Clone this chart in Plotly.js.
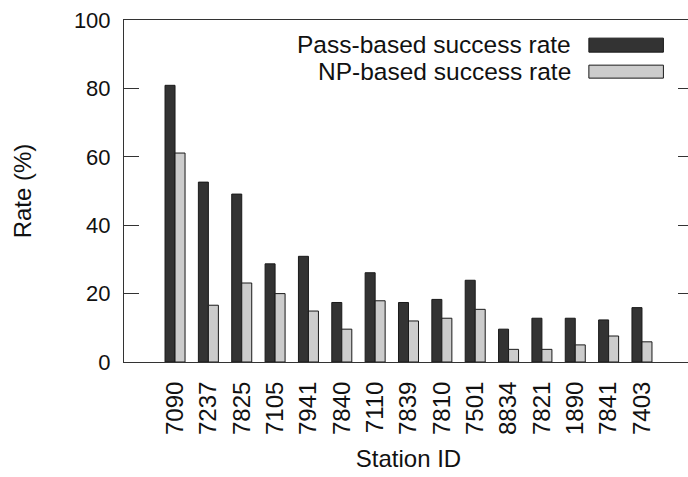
<!DOCTYPE html>
<html>
<head>
<meta charset="utf-8">
<script src="https://cdn.plot.ly/plotly-3.0.1.min.js"></script>
<style>
html, body { margin: 0; padding: 0; overflow: hidden; background: #fff; }
#chart { width: 693px; height: 477px; }
</style>
</head>
<body>
<div id="chart"></div>
<script>
const stations = ["7090","7237","7825","7105","7941","7840","7110","7839","7810","7501","8834","7821","1890","7841","7403"];
const passRate = [80.9, 52.6, 49.1, 28.7, 30.9, 17.4, 26.1, 17.4, 18.3, 23.9, 9.6, 12.8, 12.8, 12.3, 15.9];
const npRate   = [61.1, 16.6, 23.1, 20.0, 14.9, 9.6, 17.9, 12.0, 12.8, 15.4, 3.7, 3.7, 5.0, 7.6, 5.9];
const seriesNames = ["Pass-based success rate", "NP-based success rate"];
const yTicks = [0, 20, 40, 60, 80, 100];

const FONT = "Arial, 'Liberation Sans', sans-serif";
const darkFill = "#333333", lightFill = "#cccccc", edge = "#1a1a1a";

const traces = [
  { type: "bar", x: stations, y: passRate, name: seriesNames[0],
    marker: { color: darkFill, line: { color: edge, width: 1 } } },
  { type: "bar", x: stations, y: npRate, name: seriesNames[1],
    marker: { color: lightFill, line: { color: edge, width: 1 } } },
  { type: "scatter", x: [stations[0]], y: [0], yaxis: "y2", mode: "markers",
    marker: { opacity: 0 }, hoverinfo: "skip", showlegend: false }
];

const layout = {
  width: 693, height: 477,
  margin: { l: 124, r: 0, t: 20, b: 115 },
  paper_bgcolor: "#fff", plot_bgcolor: "#fff",
  showlegend: false,
  barmode: "group", bargap: 0.4, bargroupgap: 0,
  font: { family: FONT, color: "#111" },
  xaxis: {
    type: "category", range: [-1.53, 15.53],
    showline: true, mirror: true, linecolor: "#333", linewidth: 1,
    ticks: "", tickangle: -90, tickfont: { size: 24, family: FONT, color: "#111" },
    ticklabelstandoff: 9,
    showgrid: false, zeroline: false,
    title: { text: "Station ID", font: { size: 24, family: FONT, color: "#111" }, standoff: 16 }
  },
  yaxis: {
    range: [0, 100], tickvals: yTicks, ticktext: yTicks.map(String),
    showline: true, linecolor: "#333", linewidth: 1,
    ticks: "inside", ticklen: 15, tickcolor: "#333", tickwidth: 1,
    tickfont: { size: 22, family: FONT, color: "#111" },
    ticklabelstandoff: 8,
    showgrid: false, zeroline: false,
    title: { text: "Rate (%)", font: { size: 24, family: FONT, color: "#111" }, standoff: 35 }
  },
  yaxis2: {
    overlaying: "y", side: "right", range: [0, 100], tickvals: yTicks,
    showticklabels: false, ticks: "inside", ticklen: 15, tickcolor: "#333", tickwidth: 1,
    showline: true, linecolor: "#333", linewidth: 1, showgrid: false, zeroline: false
  },
  shapes: [
    { type: "rect", xref: "paper", yref: "paper", x0: 0.817, x1: 0.948, y0: 0.906, y1: 0.947,
      fillcolor: darkFill, line: { color: edge, width: 1 } },
    { type: "rect", xref: "paper", yref: "paper", x0: 0.817, x1: 0.948, y0: 0.830, y1: 0.868,
      fillcolor: lightFill, line: { color: edge, width: 1 } }
  ],
  annotations: [
    { xref: "paper", yref: "paper", x: 0.789, y: 0.927, xanchor: "right", yanchor: "middle",
      text: seriesNames[0], showarrow: false, font: { size: 24.5, family: FONT, color: "#111" } },
    { xref: "paper", yref: "paper", x: 0.789, y: 0.849, xanchor: "right", yanchor: "middle",
      text: seriesNames[1], showarrow: false, font: { size: 24.5, family: FONT, color: "#111" } }
  ]
};

Plotly.newPlot("chart", traces, layout, { displayModeBar: false, staticPlot: true });
</script>
</body>
</html>
